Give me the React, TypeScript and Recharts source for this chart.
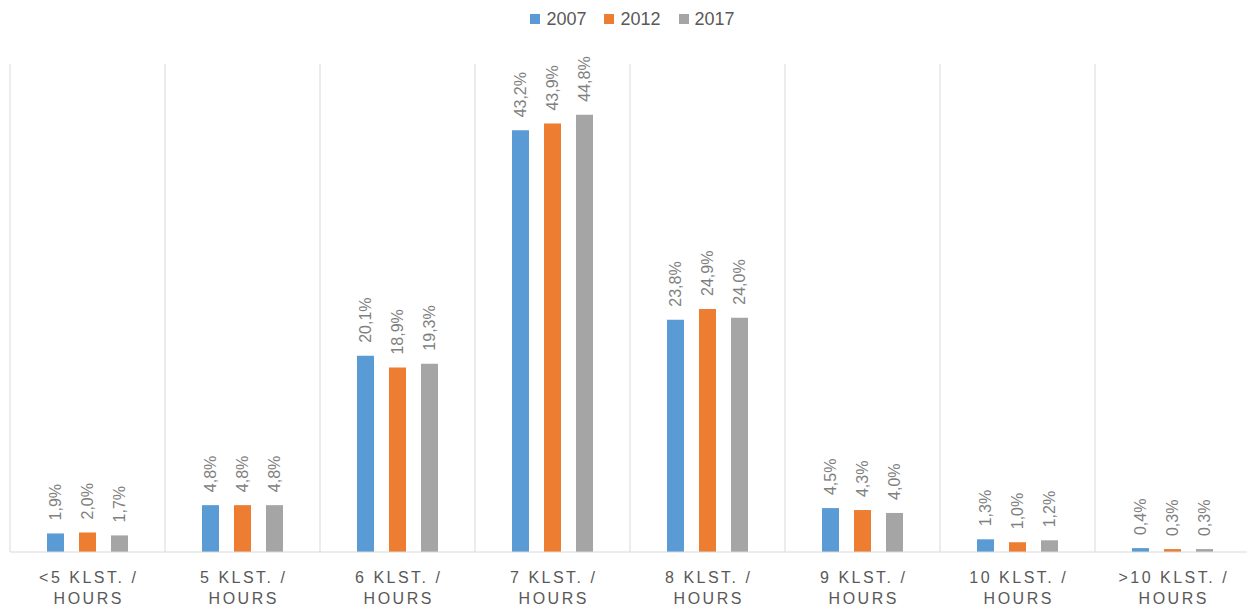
import React from 'react'
import { BarChart, Bar, XAxis, YAxis, CartesianGrid, LabelList } from 'recharts'

const categories = ['<5 KLST. /|HOURS', '5 KLST. /|HOURS', '6 KLST. /|HOURS', '7 KLST. /|HOURS', '8 KLST. /|HOURS', '9 KLST. /|HOURS', '10 KLST. /|HOURS', '>10 KLST. /|HOURS']
const v2007 = [1.9, 4.8, 20.1, 43.2, 23.8, 4.5, 1.3, 0.4]
const v2012 = [2.0, 4.8, 18.9, 43.9, 24.9, 4.3, 1.0, 0.3]
const v2017 = [1.7, 4.8, 19.3, 44.8, 24.0, 4.0, 1.2, 0.3]

const series = [
  { key: 'y2007', name: '2007', color: '#5B9BD5' },
  { key: 'y2012', name: '2012', color: '#ED7D31' },
  { key: 'y2017', name: '2017', color: '#A5A5A5' },
]

const data = categories.map((c, i) => ({ cat: c, y2007: v2007[i], y2012: v2012[i], y2017: v2017[i] }))

const FONT = '"Liberation Sans", Arial, sans-serif'
const fmt = (v: number) => v.toFixed(1).replace('.', ',') + '%'

const ValueLabel = (props: any) => {
  const { x, y, width, value } = props
  const cx = x + width / 2
  const ty = y - 13
  return (
    <text
      x={cx}
      y={ty}
      transform={`rotate(-90 ${cx} ${ty})`}
      textAnchor="start"
      dominantBaseline="central"
      fontSize={16}
      fontFamily={FONT}
      fill="#7F7F7F"
    >
      {fmt(value)}
    </text>
  )
}

const CatTick = ({ x, y, payload }: any) => {
  const [a, b] = String(payload.value).split('|')
  return (
    <g>
      <text x={x + 1.25} y={y + 23} textAnchor="middle" fontSize={16} letterSpacing={2.5} fontFamily={FONT} fill="#595959">{a}</text>
      <text x={x + 1.25} y={y + 44} textAnchor="middle" fontSize={16} letterSpacing={2.5} fontFamily={FONT} fill="#595959">{b}</text>
    </g>
  )
}

// legend drawn outside the svg so it doesn't push the plot down
const LegendBox = () => (
  <div style={{ position: 'absolute', top: 8, left: 9, width: 1247, display: 'flex', justifyContent: 'center', gap: 18, fontFamily: FONT, fontSize: 18, color: '#595959', lineHeight: '22px' }}>
    {series.map((s) => (
      <div key={s.key} style={{ display: 'flex', alignItems: 'center' }}>
        <span style={{ width: 10, height: 10, background: s.color, marginRight: 6, display: 'inline-block' }} />
        {s.name}
      </div>
    ))}
  </div>
)

export default function App() {
  return (
    <div style={{ position: 'absolute', left: 0, top: 0, width: 1247, height: 608, overflow: 'hidden', background: '#fff' }}>
      <BarChart
        width={1252}
        height={608}
        data={data}
        margin={{ top: 64, right: 2, left: 10, bottom: 0 }}
        barGap={15}
        barSize={17}
      >
        <CartesianGrid
          horizontal={false}
          stroke="#D9D9D9"
          verticalCoordinatesGenerator={({ offset }: any) =>
            Array.from({ length: categories.length + 1 }, (_, i) => offset.left + (i * offset.width) / categories.length)
          }
        />
        <XAxis dataKey="cat" tick={<CatTick />} tickLine={false} axisLine={{ stroke: '#D9D9D9' }} height={56} interval={0} />
        <YAxis hide domain={[0, 50]} />
        {series.map((s) => (
          <Bar key={s.key} dataKey={s.key} name={s.name} fill={s.color} isAnimationActive={false}>
            <LabelList dataKey={s.key} content={<ValueLabel />} />
          </Bar>
        ))}
      </BarChart>
      <LegendBox />
    </div>
  )
}
